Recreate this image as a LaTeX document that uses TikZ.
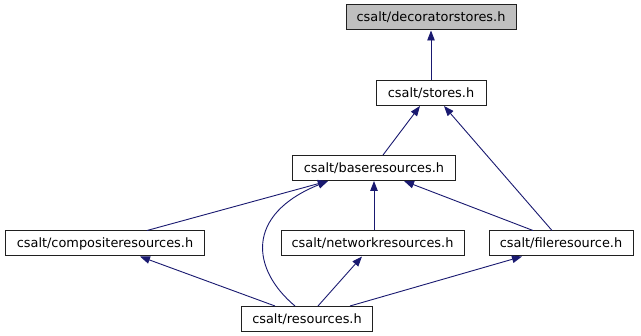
\documentclass[tikz,border=0pt]{standalone}
\usepackage{fontspec}
\setmainfont{DejaVu Sans}
\usetikzlibrary{arrows.meta}
\definecolor{edgeblue}{HTML}{191970}
\definecolor{boxline}{HTML}{202020}
\definecolor{focusfill}{HTML}{BFBFBF}
\begin{document}
\begin{tikzpicture}[x=1pt,y=-1pt,
  file/.style={draw=boxline, line width=1pt, fill=white, inner sep=0pt,
    minimum height=25pt, font=\fontsize{12.9}{15}\selectfont},
  focus/.style={file, fill=focusfill},
  dep/.style={draw=edgeblue, line width=0.9pt,
    -{Triangle[length=10pt,width=7.5pt]}}]
\useasboundingbox (0,0) rectangle (641,336);
\fill[white] (0,0) rectangle (641,336);

% header files
\node[focus, minimum width=170pt] (deco)  at (431,17.5) {csalt/decoratorstores.h};
\node[file, minimum width=110pt]  (stores) at (431,93) {csalt/stores.h};
\node[file, minimum width=163pt]  (base)  at (374,168) {csalt/baseresources.h};
\node[file, minimum width=199pt]  (comp)  at (105,243.5) {csalt/compositeresources.h};
\node[file, minimum width=183pt]  (net)   at (372.5,243.5) {csalt/networkresources.h};
\node[file, minimum width=144pt]  (fileres) at (561,243.5) {csalt/fileresource.h};
\node[file, minimum width=131pt]  (res)   at (307,319) {csalt/resources.h};

% include relations
\draw[dep] (stores.north) -- (deco.south);
\draw[dep] (base.north -| 383,0) -- (stores.south -| 420,0);
\draw[dep] (fileres.north -| 552,0) -- (stores.south -| 444,0);
\draw[dep] (comp.north -| 147,0) -- (base.south -| 328,0);
\draw[dep] (net.north -| base.south) -- (base.south);
\draw[dep] (fileres.north -| 533,0) -- (base.south -| 404,0);
\draw[dep] (res.north -| 275,0) -- (comp.south -| 140,0);
\draw[dep] (res.north -| 295,0) .. controls (252,270) and (244,215) .. (base.south -| 328,0);
\draw[dep] (res.north -| 318,0) -- (net.south -| 362,0);
\draw[dep] (res.north -| 350,0) -- (fileres.south -| 522,0);
\end{tikzpicture}
\end{document}
